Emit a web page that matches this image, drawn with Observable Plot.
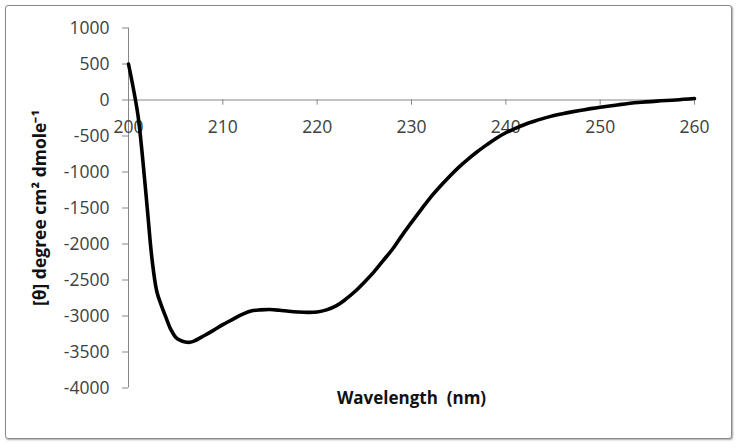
<!DOCTYPE html>
<html>
<head>
<meta charset="utf-8">
<script src="https://cdn.jsdelivr.net/npm/d3@7"></script>
<script src="https://cdn.jsdelivr.net/npm/@observablehq/plot@0.6"></script>
<style>
  html, body { margin: 0; padding: 0; background: #fff; }
  #wrap { position: relative; width: 738px; height: 447px; }
  #frame { position: absolute; left: 5px; top: 5px; width: 725px; height: 432px;
           border: 1.5px solid #8a8a8a; border-radius: 3px;
           box-shadow: 1px 1px 2px rgba(0,0,0,0.35); background: #fff; }
  #chart { position: absolute; left: 0; top: 0; }
</style>
</head>
<body>
<div id="wrap"><div id="frame"></div><div id="chart"></div></div>
<script>
const wavelength = [200, 200.5, 201, 201.5, 202, 202.5, 203, 203.5, 204, 204.5, 205, 205.5, 206, 206.5, 207, 208, 209, 210, 211, 212, 213, 214, 215, 216, 217, 218, 219, 220, 221, 222, 223, 224, 225, 226, 227, 228, 229, 230, 231, 232, 233, 234, 235, 236, 237, 238, 239, 240, 241, 242, 243, 244, 245, 246, 247, 248, 249, 250, 252, 254, 256, 258, 260];
const theta = [500, 170, -210, -810, -1520, -2220, -2660, -2860, -3030, -3190, -3295, -3340, -3360, -3365, -3345, -3275, -3200, -3120, -3050, -2980, -2930, -2915, -2910, -2920, -2935, -2945, -2950, -2945, -2915, -2860, -2770, -2660, -2530, -2390, -2230, -2070, -1880, -1700, -1525, -1355, -1205, -1065, -935, -820, -715, -620, -530, -455, -395, -340, -295, -255, -218, -190, -165, -142, -120, -100, -65, -35, -15, 0, 20];
const xTicks = [200, 210, 220, 230, 240, 250, 260];
const yTicks = [1000, 500, 0, -500, -1000, -1500, -2000, -2500, -3000, -3500, -4000];
const xLabel = "Wavelength  (nm)";
const yLabel = "[θ] degree cm² dmole⁻¹";

const data = wavelength.map((w, i) => ({w, t: theta[i]}));
const axisGray = "#878787";
const textGray = "#404040";
const tickFont = 17.5;

const chart = Plot.plot({
  width: 738,
  height: 447,
  marginLeft: 128,
  marginRight: 44,
  marginTop: 27.5,
  marginBottom: 59.5,
  style: {background: "transparent", fontFamily: "'Open Sans', sans-serif", fontSize: "16px"},
  x: {domain: [200, 260], axis: null},
  y: {domain: [-4000, 1000]},
  marks: [
    Plot.axisY({ticks: yTicks, tickSize: 6, stroke: axisGray, tickFormat: () => "", label: null}),
    Plot.axisY({ticks: yTicks, tickSize: 0, tickPadding: 19, fill: textGray, fontSize: tickFont, tickFormat: d => String(d), label: null}),
    Plot.ruleX([200], {y1: -4000, y2: 1000, stroke: axisGray}),
    Plot.ruleY([0], {x1: 200, x2: 260, stroke: axisGray}),
    Plot.ruleX(xTicks.slice(1), {x: d => d, y1: 0, y2: -72, stroke: axisGray}),
    Plot.text(xTicks, {x: d => d, y: 0, dy: 27, text: d => String(d), fill: textGray, fontSize: tickFont}),
    Plot.line(data, {x: "w", y: "t", stroke: "#000", strokeWidth: 3.6, curve: "catmull-rom"}),
    Plot.text([xLabel], {frameAnchor: "bottom", dy: 15.5, text: d => d, fontWeight: "bold", fontSize: 17, fill: "#111"}),
    Plot.text([yLabel], {frameAnchor: "left", dx: -88, rotate: -90, textAnchor: "middle", text: d => d, fontWeight: "bold", fontSize: 17.5, fill: "#111"})
  ]
});
document.getElementById("chart").appendChild(chart);
</script>
</body>
</html>
